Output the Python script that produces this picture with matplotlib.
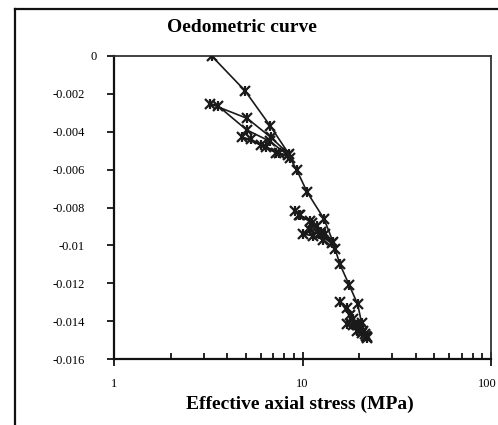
import matplotlib
matplotlib.use('Agg')
import matplotlib.pyplot as plt
from matplotlib.lines import Line2D
from matplotlib.ticker import LogLocator, NullFormatter, FixedLocator
from matplotlib.transforms import ScaledTranslation
import numpy as np

plt.rcParams['font.family'] = ['Liberation Serif', 'DejaVu Serif']

# effective axial stress (MPa) and axial strain, in test order
stress = [3.3, 4.95, 6.75, 8.5,
          6.8, 5.1, 3.25,
          3.55, 5.05, 6.7, 8.4,
          7.2, 6.0, 4.8,
          5.3, 6.4, 7.5, 8.6,
          9.3, 10.6, 13.0, 14.5,
          13.2, 11.9, 10.9, 9.7, 9.1,
          9.6, 11.2, 12.5, 14.3,
          12.2, 10.9, 10.1,
          11.4, 12.9, 14.9,
          15.8, 17.7, 19.6, 20.6, 22.0,
          20.6, 19.4, 17.9, 15.9,
          17.2, 18.6, 19.8, 21.0, 21.8,
          19.4, 17.2,
          18.6, 20.2, 21.5, 22.0]
strain = [0.0, -0.00183, -0.0037, -0.0052,
          -0.0043, -0.0033, -0.00253,
          -0.00262, -0.0039, -0.0045, -0.00525,
          -0.0051, -0.0047, -0.0043,
          -0.0044, -0.0048, -0.0051, -0.0054,
          -0.0060, -0.0072, -0.0086, -0.0098,
          -0.0094, -0.0090, -0.0087, -0.0084, -0.0082,
          -0.0084, -0.0088, -0.0093, -0.0099,
          -0.0094, -0.0092, -0.0094,
          -0.0095, -0.0097, -0.0102,
          -0.0110, -0.0121, -0.0131, -0.0141, -0.01486,
          -0.01465, -0.0142, -0.0137, -0.0130,
          -0.0133, -0.0139, -0.0142, -0.0145, -0.0148,
          -0.0145, -0.01415,
          -0.0142, -0.0144, -0.0147, -0.0149]

yticks = [0, -0.002, -0.004, -0.006, -0.008, -0.01, -0.012, -0.014, -0.016]
ylabels = ['0', '-0.002', '-0.004', '-0.006', '-0.008', '-0.01', '-0.012', '-0.014', '-0.016']

W, H = 498, 425
fig = plt.figure(figsize=(W / 100, H / 100), dpi=100)
ax = fig.add_axes([114 / W, 1 - 359 / H, (491 - 114) / W, (359 - 56) / H])

ax.plot(stress, strain, color='#1a1a1a', linewidth=1.2, marker='x',
        markersize=7, markeredgewidth=1.6, zorder=3)
ax.plot(stress, strain, linestyle='none', color='#1a1a1a', marker='|',
        markersize=7, markeredgewidth=1.6, zorder=3)

ax.set_xscale('log')
ax.set_xlim(1, 100)
ax.set_ylim(-0.016, 0)
ax.set_yticks(yticks)
ax.set_yticklabels(ylabels)
ax.xaxis.set_major_locator(FixedLocator([1, 10, 100]))
ax.set_xticklabels(['1', '10', '100'])
ax.xaxis.set_minor_locator(LogLocator(base=10, subs=np.arange(2, 10)))
ax.xaxis.set_minor_formatter(NullFormatter())

ax.tick_params(axis='y', direction='out', length=5, width=1.2, labelsize=9, pad=16)
ax.tick_params(axis='x', which='major', direction='inout', length=10, width=1.2,
               labelsize=9, pad=9)
ax.tick_params(axis='x', which='minor', direction='in', length=4, width=1.2)

# small label nudges as in the original
ylab = ax.get_yticklabels()[0]
ylab.set_transform(ylab.get_transform() + ScaledTranslation(12 / 100, 0, fig.dpi_scale_trans))
xlab = ax.get_xticklabels()[-1]
xlab.set_transform(xlab.get_transform() + ScaledTranslation(-4 / 100, 0, fig.dpi_scale_trans))

for s in ['left', 'bottom']:
    ax.spines[s].set_linewidth(1.6)
    ax.spines[s].set_color('#111111')
for s in ['top', 'right']:
    ax.spines[s].set_linewidth(1.3)
    ax.spines[s].set_color('#333333')

fig.text(242 / W, 1 - 27 / H, 'Oedometric curve', ha='center', va='center',
         fontsize=14, fontweight='bold')
fig.text(300 / W, 1 - 404 / H, 'Effective axial stress (MPa)', ha='center',
         va='center', fontsize=14, fontweight='bold')

# outer frame (cut off at right and bottom)
fig.add_artist(Line2D([14.5 / W, 14.5 / W], [0, 1 - 8.5 / H], color='#111111',
                      linewidth=1.6, transform=fig.transFigure))
fig.add_artist(Line2D([14.5 / W, 1], [1 - 8.5 / H, 1 - 8.5 / H], color='#111111',
                      linewidth=1.6, transform=fig.transFigure))

fig.savefig('out.png', dpi=100)
